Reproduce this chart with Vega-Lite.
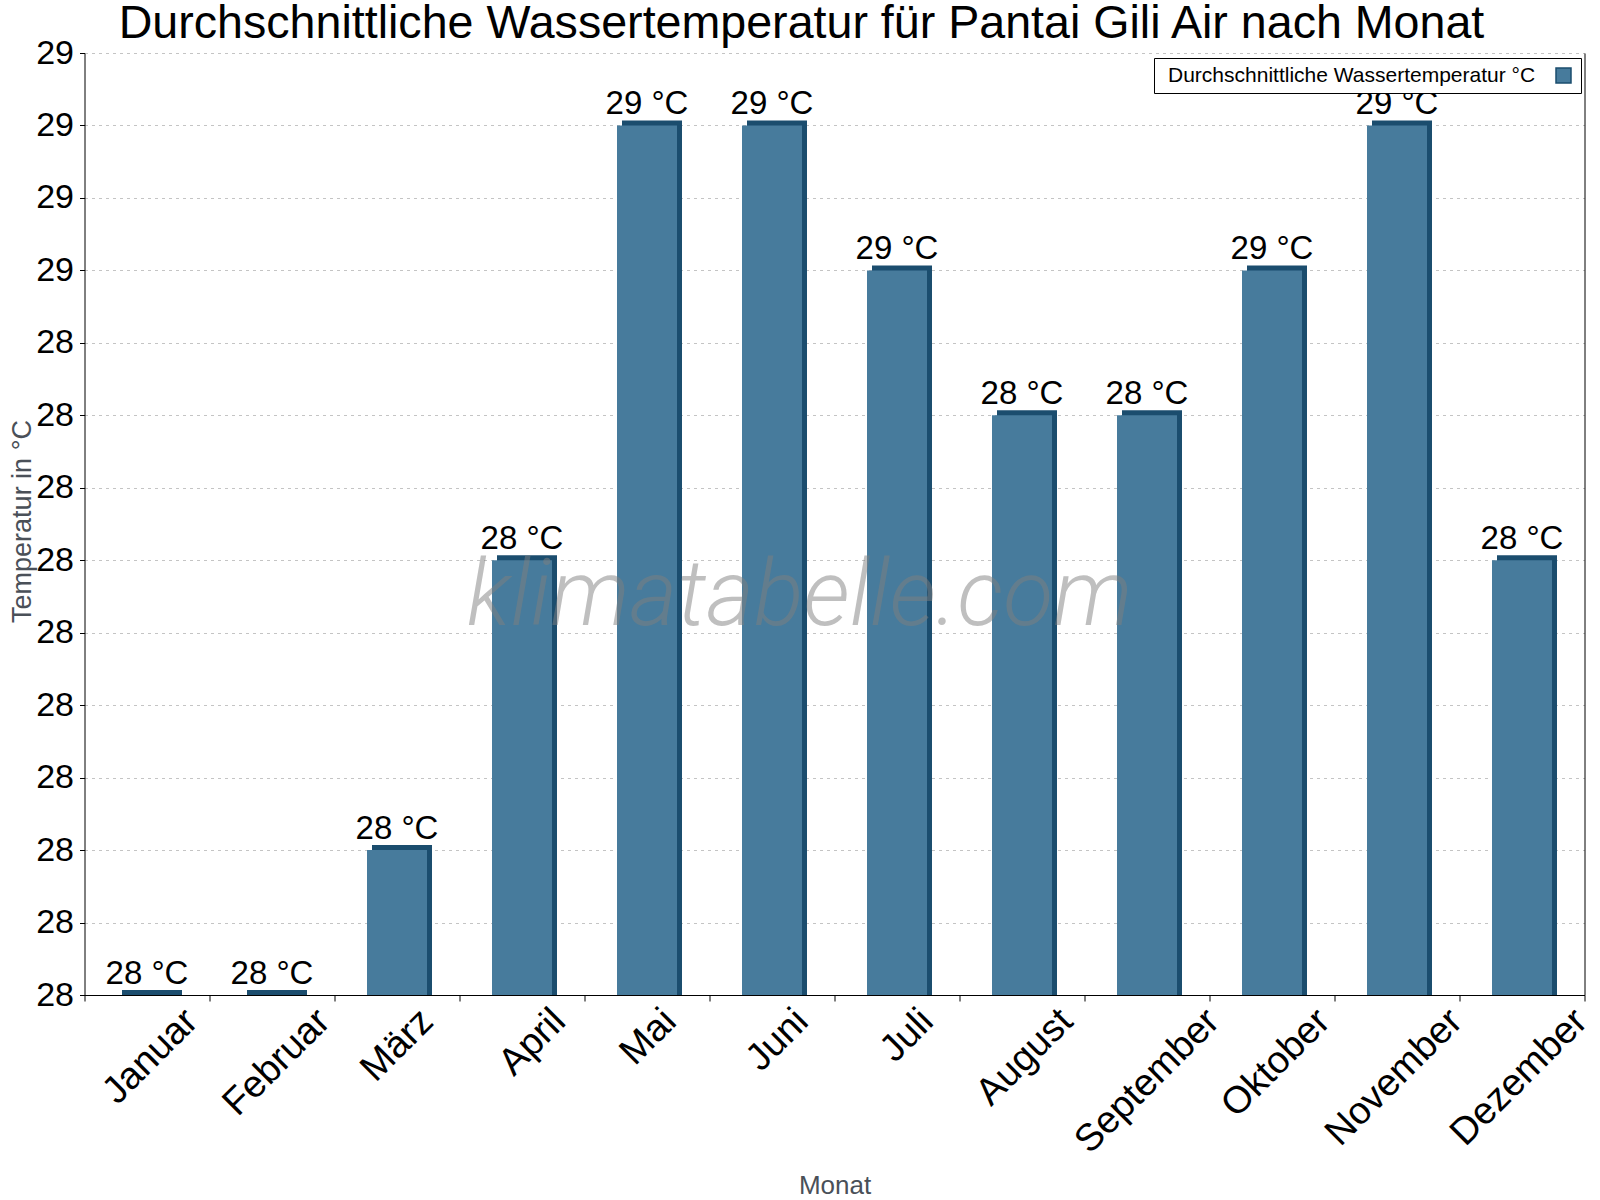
{
  "$schema": "https://vega.github.io/schema/vega-lite/v6.json",
  "width": 1500,
  "height": 942,
  "autosize": {"type": "none"},
  "padding": {"left": 84.5, "top": 53, "right": 15.5, "bottom": 205},
  "background": "white",
  "config": {
    "font": "Liberation Sans",
    "view": {"stroke": null}
  },
  "title": {
    "text": "Durchschnittliche Wassertemperatur für Pantai Gili Air nach Monat",
    "fontSize": 46.6,
    "fontWeight": "normal",
    "color": "black",
    "anchor": "middle",
    "frame": "group",
    "dx": -33,
    "dy": 18,
    "offset": 6
  },
  "data": {
    "values": [
      {"Monat": "Januar", "temp": 28.0},
      {"Monat": "Februar", "temp": 28.0},
      {"Monat": "März", "temp": 28.1},
      {"Monat": "April", "temp": 28.3},
      {"Monat": "Mai", "temp": 28.6},
      {"Monat": "Juni", "temp": 28.6},
      {"Monat": "Juli", "temp": 28.5},
      {"Monat": "August", "temp": 28.4},
      {"Monat": "September", "temp": 28.4},
      {"Monat": "Oktober", "temp": 28.5},
      {"Monat": "November", "temp": 28.6},
      {"Monat": "Dezember", "temp": 28.3}
    ]
  },
  "encoding": {
    "x": {
      "field": "Monat",
      "type": "nominal",
      "sort": null,
      "scale": {
        "domain": ["Januar", "Februar", "März", "April", "Mai", "Juni", "Juli", "August", "September", "Oktober", "November", "Dezember"],
        "paddingInner": 0,
        "paddingOuter": 0
      },
      "axis": {
        "title": "Monat",
        "titleFontSize": 26,
        "titleFontWeight": "normal",
        "titleColor": "#4a5058",
        "titleBaseline": "alphabetic",
        "titleY": 198,
        "tickBand": "extent",
        "tickSize": 6,
        "tickColor": "black",
        "domainColor": "black",
        "labelColor": "black",
        "labelFontSize": 38,
        "labelLimit": 400,
        "labelAngle": -45,
        "labelAlign": "right",
        "labelBaseline": "alphabetic",
        "labelPadding": 22,
        "labelOffset": {"expr": "9 + 7.2 * length(datum.label)"},
        "grid": false
      }
    }
  },
  "layer": [
    {
      "mark": {"type": "bar", "width": 60, "xOffset": 5, "yOffset": -5, "color": "#1b4d6e"},
      "encoding": {
        "y": {
          "field": "temp",
          "type": "quantitative",
          "scale": {"domain": [28, 28.65], "nice": false, "zero": false},
          "axis": {
            "title": "Temperatur in °C",
            "titleFontSize": 27,
            "titleFontWeight": "normal",
            "titleColor": "#4a5058",
            "titleBaseline": "alphabetic",
            "titleX": -54.5,
            "titleY": 468,
            "values": [28, 28.05, 28.1, 28.15, 28.2, 28.25, 28.3, 28.35, 28.4, 28.45, 28.5, 28.55, 28.6, 28.65],
            "format": ".0f",
            "labelFontSize": 34,
            "labelColor": "black",
            "labelPadding": 6,
            "tickSize": 5,
            "tickColor": "black",
            "domainColor": "black",
            "grid": true,
            "gridColor": "#c4c4c4",
            "gridDash": [3, 4],
            "gridWidth": 1
          }
        },
        "y2": {"datum": 28}
      }
    },
    {
      "mark": {"type": "bar", "width": 60},
      "encoding": {
        "y": {
          "field": "temp",
          "type": "quantitative",
          "axis": {"orient": "right", "labels": false, "ticks": false, "grid": false, "domain": true, "domainColor": "black", "title": null}
        },
        "y2": {"datum": 28},
        "color": {
          "datum": "Durchschnittliche Wassertemperatur °C",
          "type": "nominal",
          "scale": {"range": ["#477b9c"]},
          "legend": {
            "title": null,
            "orient": "none",
            "legendX": 1069.5,
            "legendY": 5,
            "padding": 7,
            "strokeColor": "black",
            "fillColor": "white",
            "labelFontSize": 21,
            "labelColor": "black",
            "labelLimit": 600,
            "labelOffset": -406,
            "symbolOffset": 392,
            "symbolType": "square",
            "symbolSize": 225,
            "symbolStrokeColor": "#1b4d6e",
            "symbolStrokeWidth": 1.5
          }
        }
      }
    },
    {
      "transform": [{"calculate": "format(datum.temp, '.0f') + ' °C'", "as": "beschriftung"}],
      "mark": {"type": "text", "fontSize": 33, "color": "black", "baseline": "alphabetic", "dy": -11},
      "encoding": {
        "y": {"field": "temp", "type": "quantitative", "axis": null},
        "text": {"field": "beschriftung"}
      }
    },
    {
      "data": {"values": [{"zeichen": "klimatabelle.com"}]},
      "mark": {"type": "text", "font": "Roboto", "fontStyle": "italic", "fontWeight": 300, "fontSize": 92, "color": "#808080", "opacity": 0.5, "align": "center", "baseline": "alphabetic"},
      "encoding": {
        "x": {"datum": "Juni", "bandPosition": 0.72},
        "y": {"datum": 28.255, "type": "quantitative", "axis": null},
        "text": {"field": "zeichen"}
      }
    }
  ],
  "resolve": {"axis": {"y": "independent"}}
}
